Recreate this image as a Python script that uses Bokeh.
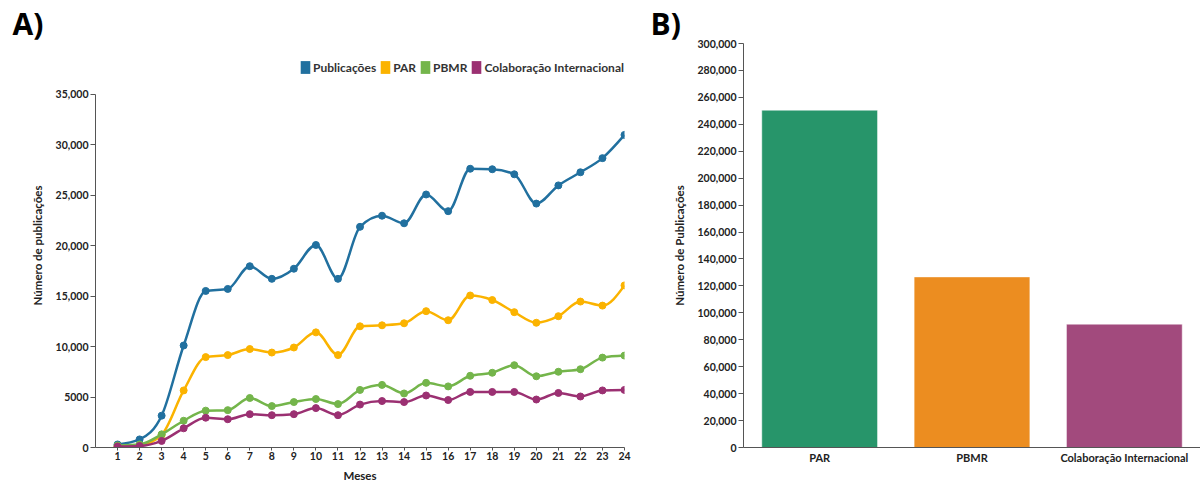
import numpy as np
from bokeh.plotting import figure
from bokeh.layouts import row
from bokeh.models import (FixedTicker, NumeralTickFormatter, Legend, LegendItem,
                          FactorRange, Range1d, Title)
from bokeh.embed import file_html
from bokeh.resources import INLINE

# ---------------- data ----------------
months = list(range(1, 25))
publicacoes = [300, 800, 3150, 10100, 15500, 15700, 17950, 16700, 17700, 20050, 16700, 21850,
               22950, 22200, 25050, 23400, 27600, 27550, 27050, 24150, 25950, 27250, 28650, 30950]
par = [100, 200, 1250, 5650, 8950, 9150, 9750, 9400, 9900, 11400, 9150, 12000,
       12100, 12300, 13500, 12600, 15050, 14600, 13400, 12350, 13000, 14450, 14050, 16050]
pbmr = [200, 300, 1300, 2650, 3650, 3700, 4900, 4100, 4500, 4800, 4300, 5700,
        6200, 5350, 6400, 6050, 7100, 7400, 8150, 7050, 7500, 7750, 8900, 9100]
colab = [100, 150, 650, 1900, 2950, 2800, 3300, 3200, 3300, 3900, 3200, 4250,
         4600, 4500, 5150, 4700, 5500, 5500, 5500, 4750, 5400, 5050, 5650, 5700]
series_names = ["Publicações", "PAR", "PBMR", "Colaboração Internacional"]

y_ticks = [0, 5000, 10000, 15000, 20000, 25000, 30000, 35000]
y_tick_labels = ["0", "5000", "10,000", "15,000", "20,000", "25,000", "30,000", "35,000"]

bar_categories = ["PAR", "PBMR", "Colaboração Internacional"]
bar_values = [250500, 126700, 91600]
bar_y_ticks = list(range(0, 300001, 20000))

# ---------------- styles ----------------
FONT = "Lato"
line_colors = ["#21709f", "#fbb300", "#74b54b", "#9b3072"]
bar_colors = ["#27956a", "#ec8d20", "#a24a7d"]
TXT = "#222222"
AX = "#555555"


def monotone_tangents(x, y):
    x = np.asarray(x, float)
    y = np.asarray(y, float)
    n = len(x)
    h = np.diff(x)
    s = np.diff(y) / h
    t = np.zeros(n)
    for i in range(1, n - 1):
        h0, h1, s0, s1 = h[i - 1], h[i], s[i - 1], s[i]
        p = (s0 * h1 + s1 * h0) / (h0 + h1)
        t[i] = (np.sign(s0) + np.sign(s1)) * min(abs(s0), abs(s1), 0.5 * abs(p))
    t[0] = (3 * s[0] - t[1]) / 2
    t[-1] = (3 * s[-1] - t[-2]) / 2
    return x, y, t


def bezier_segments(xs, ys):
    x, y, t = monotone_tangents(xs, ys)
    x0, x1 = x[:-1], x[1:]
    y0, y1 = y[:-1], y[1:]
    dx = (x1 - x0) / 3
    return dict(x0=x0, y0=y0, x1=x1, y1=y1,
                cx0=x0 + dx, cy0=y0 + dx * t[:-1],
                cx1=x1 - dx, cy1=y1 - dx * t[1:])


def style_axis(ax, size="10.5px"):
    ax.axis_line_color = AX
    ax.major_tick_line_color = AX
    ax.minor_tick_line_color = None
    ax.major_tick_in = 0
    ax.major_label_text_font = FONT
    ax.major_label_text_font_style = "bold"
    ax.major_label_text_font_size = size
    ax.major_label_text_color = TXT
    ax.axis_label_text_font = FONT
    ax.axis_label_text_font_style = "bold"
    ax.axis_label_text_font_size = "11.5px"
    ax.axis_label_text_color = TXT


def panel_title(text, offset):
    return Title(text=text, align="left", offset=offset, standoff=0,
                 text_font="Open Sans", text_font_style="bold",
                 text_font_size="30px", text_line_height=0.85, text_color="#000000")


# ---------------- left chart ----------------
p1 = figure(width=640, height=484, x_range=Range1d(0, 24), y_range=Range1d(0, 40000),
            output_backend="svg", toolbar_location=None,
            min_border_left=95, min_border_right=16, min_border_top=42, min_border_bottom=37)
p1.outline_line_color = None
p1.grid.visible = False

legend_items = []
for name, vals, c in zip(series_names, [publicacoes, par, pbmr, colab], line_colors):
    p1.bezier(**bezier_segments(months, vals), line_color=c, line_width=2.5)
    p1.scatter(months, vals, size=7, fill_color=c, line_color=c)
    dummy = p1.quad(left=[np.nan], right=[np.nan], top=[np.nan], bottom=[np.nan],
                    fill_color=c, line_color=None)
    legend_items.append(LegendItem(label=name, renderers=[dummy]))

legend = Legend(items=legend_items, orientation="horizontal", location=(204, 372),
                padding=0, margin=0, spacing=3, label_standoff=2,
                glyph_width=12, glyph_height=16, label_height=16, label_width=10,
                label_text_font=FONT, label_text_font_style="bold",
                label_text_font_size="12px", label_text_color="#333333",
                border_line_color=None, background_fill_alpha=0)
p1.add_layout(legend, "center")

xa = p1.xaxis[0]
ya = p1.yaxis[0]
style_axis(xa)
style_axis(ya)
xa.ticker = FixedTicker(ticks=months)
xa.major_tick_out = 3
xa.major_label_standoff = 1
xa.axis_label = "Meses"
xa.axis_label_standoff = 6
ya.ticker = FixedTicker(ticks=y_ticks)
ya.major_label_overrides = {t: l for t, l in zip(y_ticks, y_tick_labels)}
ya.bounds = (0, 35000)
ya.major_tick_out = 5
ya.major_label_standoff = 2
ya.axis_label = "Número de publicações"
ya.axis_label_standoff = 9

p1.add_layout(panel_title("A)", -83), "above")

# ---------------- right chart ----------------
p2 = figure(width=560, height=484, x_range=FactorRange(*bar_categories),
            y_range=Range1d(0, 300000), output_backend="svg", toolbar_location=None,
            min_border_left=103, min_border_right=0, min_border_top=42, min_border_bottom=37)
p2.outline_line_color = None
p2.grid.visible = False
p2.vbar(x=bar_categories, top=bar_values, width=0.76, fill_color=bar_colors,
        line_color="white", line_alpha=0.5, line_width=1)

xb = p2.xaxis[0]
yb = p2.yaxis[0]
style_axis(xb, "11px")
style_axis(yb)
xb.major_tick_out = 0
xb.major_label_standoff = 3
yb.ticker = FixedTicker(ticks=bar_y_ticks)
yb.formatter = NumeralTickFormatter(format="0,0")
yb.major_tick_out = 5
yb.major_label_standoff = 2
yb.axis_label = "Número de Publicações"
yb.axis_label_standoff = 9

p2.add_layout(panel_title("B)", -93), "above")

layout = row(p1, p2)
open("out.html", "w").write(file_html(layout, INLINE))
